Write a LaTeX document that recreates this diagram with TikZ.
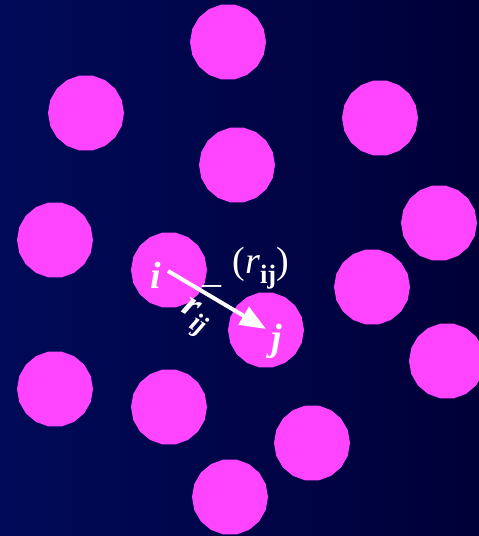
\documentclass[tikz,border=0pt]{standalone}
\usepackage{fontspec}
\setmainfont{Liberation Serif}
\usetikzlibrary{arrows.meta,shapes.geometric}
\definecolor{bgL}{HTML}{000A58}
\definecolor{bgR}{HTML}{000038}
\definecolor{atom}{HTML}{FF44FF}
\tikzset{
  atomnode/.style={regular polygon, regular polygon sides=18, minimum size=76pt, inner sep=0pt, fill=atom, draw=none},
  lbl/.style={text=white, inner sep=0pt, font=\fontsize{38}{38}\selectfont}
}
\begin{document}
\begin{tikzpicture}[x=1pt,y=-1pt]
\shade[left color=bgL, right color=bgR] (0,0) rectangle (479,536);
\useasboundingbox (0,0) rectangle (479,536);
\node[atomnode] (a1) at (228,42) {};
\node[atomnode] (a2) at (86,113) {};
\node[atomnode] (a3) at (380,118) {};
\node[atomnode] (a4) at (237,165) {};
\node[atomnode] (a5) at (55,240) {};
\node[atomnode] (a6) at (439,223) {};
\node[atomnode] (ai) at (169,270) {};
\node[atomnode] (a8) at (372,287) {};
\node[atomnode] (aj) at (266,330) {};
\node[atomnode] (a10) at (447,361) {};
\node[atomnode] (a11) at (55,389) {};
\node[atomnode] (a12) at (169,407) {};
\node[atomnode] (a13) at (312,443) {};
\node[atomnode] (a14) at (230,497) {};
\node[lbl] (li) at (156,275) {\textit{\textbf{i}}};
\node[lbl] (lj) at (277,341) {\textit{\textbf{j}}};
\coordinate (s) at (168,271);
\coordinate (t) at (266,329);
\draw[white, line width=4pt, -{Triangle[length=26pt,width=20pt]}] (s) -- (t);
\node[lbl, anchor=base] (us) at (212,282) {\_};
\node[lbl] (U) at (261,268) {(\textit{r}\textsubscript{\textbf{ij}})};
\node[lbl, rotate=-31] (rij) at (194,318) {\textit{\textbf{r}}\textsubscript{\textbf{\textit{ij}}}};
\end{tikzpicture}
\end{document}
